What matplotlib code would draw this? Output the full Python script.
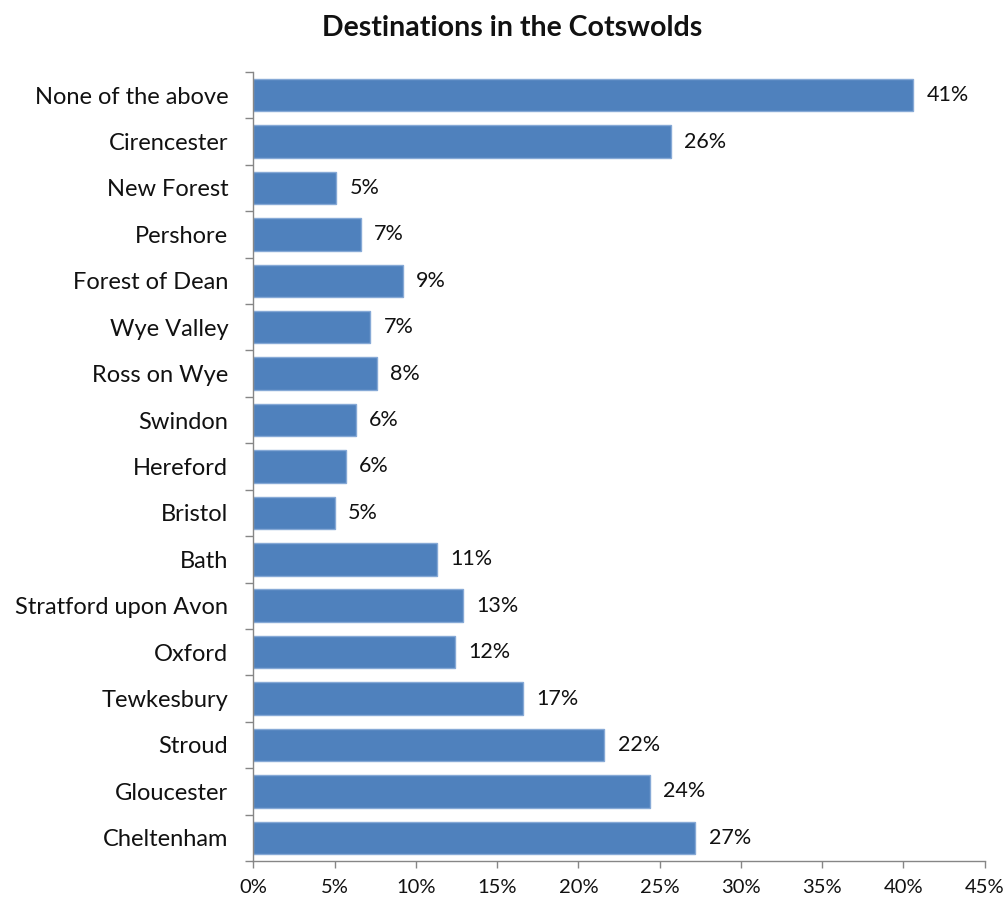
import matplotlib.pyplot as plt
import numpy as np
from matplotlib.ticker import FixedLocator

# data, top to bottom as in the chart
destinations = ['None of the above', 'Cirencester', 'New Forest', 'Pershore',
                'Forest of Dean', 'Wye Valley', 'Ross on Wye', 'Swindon',
                'Hereford', 'Bristol', 'Bath', 'Stratford upon Avon', 'Oxford',
                'Tewkesbury', 'Stroud', 'Gloucester', 'Cheltenham']
share = [40.6, 25.7, 5.1, 6.6, 9.2, 7.2, 7.6, 6.3, 5.7, 5.0, 11.3, 12.9, 12.4,
         16.6, 21.6, 24.4, 27.2]
x_ticks = [0, 5, 10, 15, 20, 25, 30, 35, 40, 45]

plt.rcParams['font.family'] = ['Lato', 'DejaVu Sans']
axis_grey = '#868686'
bar_blue = '#4F81BD'

fig = plt.figure(figsize=(10.08, 9.02), dpi=100)
ax = fig.add_axes([0.2513, 0.04545, 0.7256, 0.8748])

y = np.arange(len(destinations))
bars = ax.barh(y, share, height=0.70, color=bar_blue, edgecolor='#86A9D6',
               linewidth=1.0)

for rect, v in zip(bars, share):
    ax.annotate(f"{v:.0f}%", (rect.get_width(), rect.get_y() + rect.get_height() / 2),
                xytext=(9.5, 0), textcoords='offset points',
                ha='left', va='center', fontsize=15.5, color='#111111')

ax.set_ylim(len(destinations) - 0.5, -0.5)
ax.set_xlim(0, 45)

ax.set_yticks(y)
ax.set_yticklabels(destinations, fontsize=17, color='#111111')
ax.yaxis.set_minor_locator(FixedLocator(np.arange(-0.5, len(destinations), 1.0)))
ax.tick_params(axis='y', which='major', length=0, pad=18)
ax.tick_params(axis='y', which='minor', length=6, color=axis_grey, width=1)

ax.set_xticks(x_ticks)
ax.set_xticklabels([f"{t}%" for t in x_ticks], fontsize=14.5, color='#111111')
ax.tick_params(axis='x', length=5, color=axis_grey, width=1, pad=8)

for side in ['top', 'right']:
    ax.spines[side].set_visible(False)
for side in ['left', 'bottom']:
    ax.spines[side].set_color(axis_grey)
    ax.spines[side].set_linewidth(1)

fig.text(0.508, 0.969, 'Destinations in the Cotswolds', ha='center', va='center',
         fontsize=20.5, fontweight='bold', color='#111111')

plt.savefig('out.png', dpi=100)
plt.close()
